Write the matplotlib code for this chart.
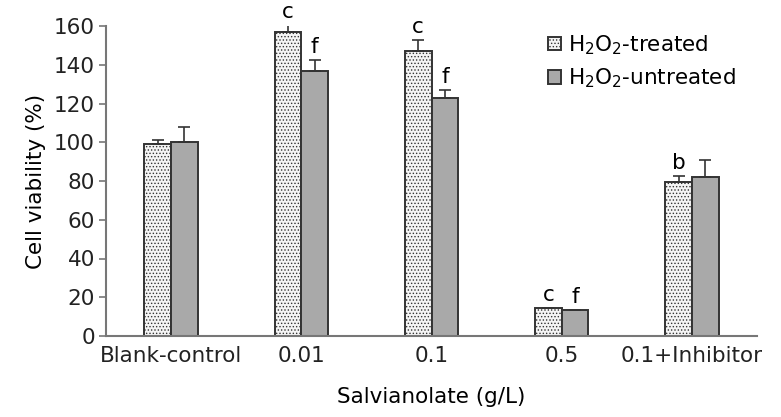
import matplotlib
matplotlib.use("Agg")
import matplotlib.pyplot as plt
import numpy as np

plt.rcParams['font.family'] = ['DejaVu Sans']
plt.rcParams['hatch.color'] = '#c8c8c8'
plt.rcParams['hatch.linewidth'] = 0.6
plt.rcParams['mathtext.fontset'] = 'dejavusans'

categories = ['Blank-control', '0.01', '0.1', '0.5', '0.1+Inhibitor']
treated = [99, 157, 147, 14.5, 79.6]
treated_err = [2, 3.5, 5.8, 0, 3]
untreated = [100, 136.8, 122.8, 13.4, 82]
untreated_err = [8, 5.7, 4.2, 0, 9]
treated_labels = ['', 'c', 'c', 'c', 'b']
untreated_labels = ['', 'f', 'f', 'f', '']
series_names = ['H$_2$O$_2$-treated', 'H$_2$O$_2$-untreated']

fs = 15.5

fig = plt.figure(figsize=(7.81, 4.17), dpi=100)
ax = fig.add_axes([106/781, 81/417, (757-106)/781, 310/417])

x = np.arange(len(categories))
w = 0.205
edge = '#333333'
ax.bar(x - w/2, treated, w, color='#f4f4f4', edgecolor=edge, linewidth=1.4,
       hatch='.....', label=series_names[0], zorder=2)
ax.bar(x + w/2, untreated, w, color='#a9a9a9', edgecolor=edge, linewidth=1.4,
       label=series_names[1], zorder=2)
ax.errorbar(x - w/2, treated, yerr=[np.zeros(len(x)), treated_err], fmt='none',
            ecolor=edge, elinewidth=1.2, capsize=4, capthick=1.2, zorder=3)
ax.errorbar(x + w/2, untreated, yerr=[np.zeros(len(x)), untreated_err], fmt='none',
            ecolor=edge, elinewidth=1.2, capsize=4, capthick=1.2, zorder=3)

for xi, v, e, t in zip(x - w/2, treated, treated_err, treated_labels):
    if t:
        ax.text(xi, v + e + 1.5, t, ha='center', va='bottom', fontsize=fs)
for xi, v, e, t in zip(x + w/2, untreated, untreated_err, untreated_labels):
    if t:
        ax.text(xi, v + e + 1.5, t, ha='center', va='bottom', fontsize=fs)

ax.set_xlim(-0.5, 4.5)
ax.set_ylim(0, 160)
ax.set_yticks(np.arange(0, 161, 20))
ax.set_xticks(x)
ax.set_xticklabels(categories)
ax.tick_params(axis='x', length=0, labelsize=fs, pad=7, colors='#222222')
ax.tick_params(axis='y', length=5, width=1.2, labelsize=fs, color='#777777',
               labelcolor='#222222', pad=3)
for s in ['top', 'right']:
    ax.spines[s].set_visible(False)
for s in ['left', 'bottom']:
    ax.spines[s].set_color('#777777')
    ax.spines[s].set_linewidth(1.5)

ax.set_ylabel('Cell viability (%)', fontsize=fs, labelpad=6)
ax.set_xlabel('Salvianolate (g/L)', fontsize=fs, labelpad=15)

ax.legend(loc='upper left', bbox_to_anchor=(0.666, 1.005), frameon=False,
          fontsize=fs, handlelength=0.6, handleheight=0.6,
          handletextpad=0.3, labelspacing=0.45, borderaxespad=0)

fig.savefig('out.png', dpi=100)
